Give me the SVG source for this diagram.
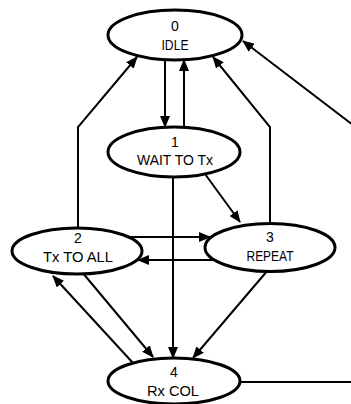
<svg xmlns="http://www.w3.org/2000/svg" width="351" height="404" viewBox="0 0 351 404">
<style>
.node{fill:#fff;stroke:#000;stroke-width:3}
.c{fill:none;stroke:#000;stroke-width:2}
text{font-family:"Liberation Sans",Arial,sans-serif;font-size:14px;fill:#000;text-anchor:middle}
</style>
<defs>
<marker id="ah" viewBox="0 0 12 10" refX="11" refY="5" markerWidth="12" markerHeight="10" markerUnits="userSpaceOnUse" orient="auto">
<path d="M0,0 L12,5 L0,10 z" fill="#000"/>
</marker>
</defs>
<rect width="351" height="404" fill="#fff"/>
<g id="connectors">
<path class="c" d="M165,58 L165,127" marker-end="url(#ah)"/>
<path class="c" d="M184,129 L184,60" marker-end="url(#ah)"/>
<path class="c" d="M173,176 L173,358" marker-end="url(#ah)"/>
<path class="c" d="M205,174 L240,222" marker-end="url(#ah)"/>
<path class="c" d="M78,230 L78,127 L137,57" marker-end="url(#ah)"/>
<path class="c" d="M270,225 L270,127 L213,57" marker-end="url(#ah)"/>
<path class="c" d="M130,237 L210,237" marker-end="url(#ah)"/>
<path class="c" d="M214,260 L138,260" marker-end="url(#ah)"/>
<path class="c" d="M133,363 L53,276" marker-end="url(#ah)"/>
<path class="c" d="M82,272 L153,357" marker-end="url(#ah)"/>
<path class="c" d="M268,270 L193,358" marker-end="url(#ah)"/>
<path class="c" d="M238,382 L362,382 L362,132 L243,41" marker-end="url(#ah)"/>
</g>
<g id="n0">
<ellipse class="node" cx="175" cy="35" rx="67" ry="25"/>
<text x="175" y="31">0</text>
<text x="175" y="50" textLength="27" lengthAdjust="spacingAndGlyphs">IDLE</text>
</g>
<g id="n1">
<ellipse class="node" cx="174" cy="152" rx="66" ry="25"/>
<text x="175" y="147">1</text>
<text x="175" y="165" textLength="76" lengthAdjust="spacingAndGlyphs">WAIT TO Tx</text>
</g>
<g id="n2">
<ellipse class="node" cx="77" cy="251" rx="65" ry="23"/>
<text x="78" y="243">2</text>
<text x="78" y="262" textLength="70" lengthAdjust="spacingAndGlyphs">Tx TO ALL</text>
</g>
<g id="n3">
<ellipse class="node" cx="270" cy="247.5" rx="65" ry="24"/>
<text x="270" y="242">3</text>
<text x="270" y="261" textLength="47" lengthAdjust="spacingAndGlyphs">REPEAT</text>
</g>
<g id="n4">
<ellipse class="node" cx="174" cy="381" rx="66" ry="23"/>
<text x="174" y="377">4</text>
<text x="173" y="396" textLength="52" lengthAdjust="spacingAndGlyphs">Rx COL</text>
</g>
</svg>
